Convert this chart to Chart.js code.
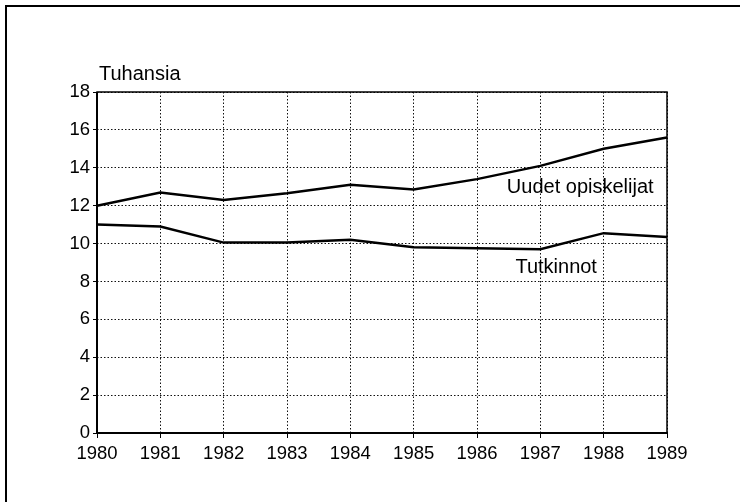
<!DOCTYPE html>
<html>
<head>
<meta charset="utf-8">
<script src="https://cdn.jsdelivr.net/npm/chart.js@4/dist/chart.umd.min.js"></script>
<style>
  body { margin: 0; background: #fff; }
  #wrap { position: relative; width: 740px; height: 502px; }
</style>
</head>
<body>
<div id="wrap"><canvas id="lineChart" width="740" height="502"></canvas></div>
<script>
// data (thousands)
var years = ['1980', '1981', '1982', '1983', '1984', '1985', '1986', '1987', '1988', '1989'];
var uudetOpiskelijat = [12.0, 12.7, 12.3, 12.65, 13.1, 12.85, 13.4, 14.1, 15.0, 15.6];
var tutkinnot = [11.0, 10.9, 10.05, 10.05, 10.2, 9.8, 9.75, 9.7, 10.55, 10.35];
var yTicks = [0, 2, 4, 6, 8, 10, 12, 14, 16, 18];

var FONT = 'Liberation Sans, Arial, Helvetica, sans-serif';

// series names written next to the lines, in data units
var seriesLabels = [
    { text: 'Uudet opiskelijat', x: 7.63, y: 12.95 },
    { text: 'Tutkinnot', x: 7.25, y: 8.75 }
];

var decor = {
    id: 'decor',
    beforeDraw: function(chart) {
        var c = chart.ctx;
        c.save();
        c.strokeStyle = '#000';
        c.lineWidth = 2;
        c.beginPath();
        c.moveTo(6, 502);
        c.lineTo(6, 6);
        c.lineTo(740, 6);
        c.stroke();
        c.restore();
    },
    afterDraw: function(chart) {
        var c = chart.ctx, a = chart.chartArea;
        var sx = chart.scales.x, sy = chart.scales.y;
        c.save();
        c.strokeStyle = '#000';
        c.lineWidth = 1.5;
        c.strokeRect(a.left, a.top, a.right - a.left, a.bottom - a.top);
        c.lineWidth = 2;
        c.beginPath();
        c.moveTo(a.left, a.top);
        c.lineTo(a.left, a.bottom);
        c.lineTo(a.right, a.bottom);
        c.stroke();

        c.fillStyle = '#000';
        c.font = '20px ' + FONT;
        c.textAlign = 'left';
        c.textBaseline = 'middle';
        c.fillText('Tuhansia', a.left + 2, a.top - 18);

        c.font = '20px ' + FONT;
        c.textAlign = 'center';
        seriesLabels.forEach(function(l) {
            c.fillText(l.text, sx.getPixelForValue(l.x), sy.getPixelForValue(l.y));
        });
        c.restore();
    }
};

var ctx = document.getElementById('lineChart').getContext('2d');
var myChart = new Chart(ctx, {
    type: 'line',
    data: {
        labels: years,
        datasets: [{
            label: 'Uudet opiskelijat',
            data: uudetOpiskelijat,
            borderColor: '#000',
            borderWidth: 2.5,
            pointRadius: 0,
            tension: 0,
            fill: false
        }, {
            label: 'Tutkinnot',
            data: tutkinnot,
            borderColor: '#000',
            borderWidth: 2.5,
            pointRadius: 0,
            tension: 0,
            fill: false
        }]
    },
    options: {
        responsive: false,
        animation: false,
        layout: { padding: { left: 37, top: 92, right: 73, bottom: 29 } },
        plugins: {
            legend: { display: false },
            tooltip: { enabled: false }
        },
        scales: {
            x: {
                offset: false,
                afterFit: function(s) { s.height = 40; },
                grid: {
                    color: '#111',
                    lineWidth: 1,
                    tickLength: 5,
                    tickColor: '#000',
                    tickWidth: 1,
                    tickBorderDash: []
                },
                border: { display: false, dash: [1.5, 2] },
                ticks: {
                    color: '#000',
                    font: { family: FONT, size: 18.5 },
                    padding: 5,
                    maxRotation: 0,
                    autoSkip: false
                }
            },
            y: {
                min: 0,
                max: 18,
                afterFit: function(s) { s.width = 60; },
                afterBuildTicks: function(s) {
                    s.ticks = yTicks.map(function(v) { return { value: v }; });
                },
                grid: {
                    color: '#111',
                    lineWidth: 1,
                    tickLength: 4,
                    tickColor: '#000',
                    tickWidth: 1,
                    tickBorderDash: []
                },
                border: { display: false, dash: [1.5, 2] },
                ticks: {
                    color: '#000',
                    font: { family: FONT, size: 18.5 },
                    padding: 3
                }
            }
        }
    },
    plugins: [decor]
});
</script>
</body>
</html>
